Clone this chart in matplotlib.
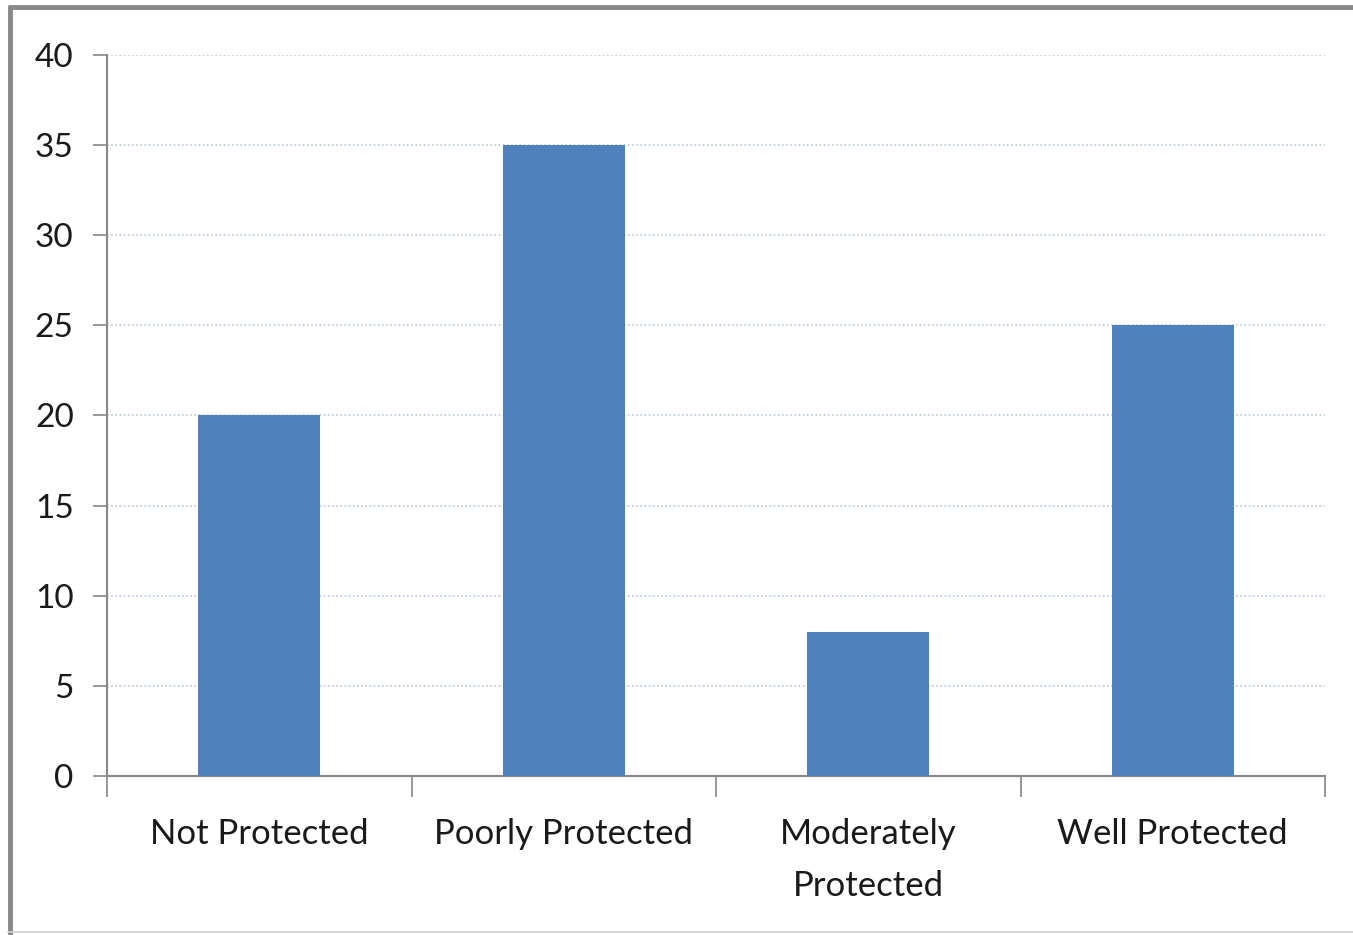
import matplotlib.pyplot as plt
from matplotlib.lines import Line2D

categories = ["Not Protected", "Poorly Protected", "Moderately\nProtected", "Well Protected"]
values = [20, 35, 8, 25]
yticks = [0, 5, 10, 15, 20, 25, 30, 35, 40]

plt.rcParams['font.family'] = ['Lato', 'DejaVu Sans']

fig = plt.figure(figsize=(13.53, 9.35), dpi=100)
ax = fig.add_axes([0.0791, 0.1701, 0.9002, 0.7711])

x = list(range(len(categories)))
ax.bar(x, values, width=0.40, color='#4F81BD', zorder=3)

ax.set_xlim(-0.5, len(categories) - 0.5)
ax.set_ylim(0, 40)
ax.set_yticks(yticks)
ax.yaxis.grid(True, linestyle=(0, (1, 1.5)), color='#b8c8e0', linewidth=1.2, zorder=0)

# category labels centred under bars, ticks on category boundaries
ax.set_xticks([i - 0.5 for i in range(len(categories) + 1)])
ax.set_xticklabels([])
ax.tick_params(axis='x', length=15, width=1.2, color='#888888')
for i, lab in enumerate(categories):
    ax.text(i, -2.35, lab, ha='center', va='top', fontsize=25, color='#1a1a1a',
            linespacing=1.75)

ax.tick_params(axis='y', length=10, width=1.2, color='#888888', labelsize=24,
               labelcolor='#1a1a1a', pad=14)

for side in ['top', 'right']:
    ax.spines[side].set_visible(False)
for side in ['left', 'bottom']:
    ax.spines[side].set_color('#888888')
    ax.spines[side].set_linewidth(1.5)

# outer chart frame
fig.add_artist(Line2D([0.0074, 0.0074], [0.0, 0.994], color='#888888', linewidth=3.5,
                      solid_capstyle='butt'))
fig.add_artist(Line2D([0.006, 1.0], [0.9925, 0.9925], color='#888888', linewidth=3.5,
                      solid_capstyle='butt'))
fig.add_artist(Line2D([0.006, 1.0], [0.003, 0.003], color='#d0d0d0', linewidth=1.2))

fig.savefig('out.png', dpi=100)
